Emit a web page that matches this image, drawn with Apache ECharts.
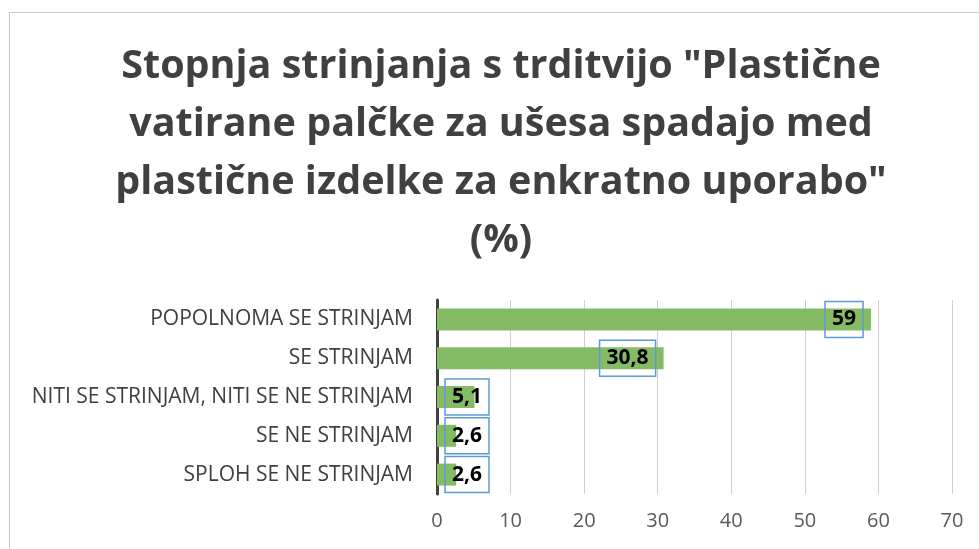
<!DOCTYPE html>
<html><head><meta charset="utf-8">
<script src="https://cdn.jsdelivr.net/npm/echarts@6/dist/echarts.min.js"></script>
<style>
html,body{margin:0;padding:0;background:#fff;overflow:hidden;}
#frame{position:absolute;left:9px;top:12px;width:1000px;height:600px;border-left:1px solid #c9c9c9;border-top:1px solid #c9c9c9;}
#chart{position:absolute;left:0;top:0;width:979px;height:549px;}
</style>
</head><body>
<div id="frame"></div>
<div id="chart"></div>
<script>
const categories = ["POPOLNOMA SE STRINJAM","SE STRINJAM","NITI SE STRINJAM, NITI SE NE STRINJAM","SE NE STRINJAM","SPLOH SE NE STRINJAM"];
const values = [59, 30.8, 5.1, 2.6, 2.6];
const xTicks = [0,10,20,30,40,50,60,70];
const titleText = 'Stopnja strinjanja s trditvijo "Plastične\nvatirane palčke za ušesa spadajo med\nplastične izdelke za enkratno uporabo"\n(%)';

const chart = echarts.init(document.getElementById('chart'), null, {renderer:'canvas'});
const fmt = v => String(v).replace('.', ',');
const labelBase = {
  show:true, fontFamily:'Open Sans', fontWeight:'bold', fontSize:21, lineHeight:24, color:'#000',
  borderColor:'#5b9bd5', borderWidth:1.5, padding:[7,7,5,7],
  formatter: p => fmt(p.value)
};
const seriesData = values.map(v => ({
  value: v,
  label: v > 20
    ? Object.assign({}, labelBase, {position:'insideRight', distance:8})
    : Object.assign({}, labelBase, {position:[8,'50%'], align:'left', verticalAlign:'middle'})
}));

chart.setOption({
  animation:false,
  backgroundColor:'transparent',
  title:{
    text:titleText, left:501, top:38, padding:0, textAlign:'center',
    textStyle:{fontFamily:'Open Sans', fontWeight:'bold', fontSize:39.5, color:'#404040', lineHeight:58}
  },
  grid:{left:437, right:27, top:300, bottom:55, containLabel:false},
  xAxis:{
    type:'value', min:xTicks[0], max:xTicks[xTicks.length-1], interval:10,
    axisLine:{show:false}, axisTick:{show:false},
    splitLine:{show:true, lineStyle:{color:'#d0d0d0', width:1}},
    axisLabel:{fontFamily:'Open Sans', fontSize:20, color:'#595959', margin:17}
  },
  yAxis:{
    type:'category', data:categories, inverse:true,
    axisLine:{show:true, lineStyle:{color:'#404040', width:3}},
    axisTick:{show:false},
    axisLabel:{fontFamily:'Open Sans', fontSize:21, color:'#404040', margin:24}
  },
  series:[{
    type:'bar', data:seriesData, barWidth:22,
    itemStyle:{color:'#85bb64'}
  }]
});
</script>
</body></html>
